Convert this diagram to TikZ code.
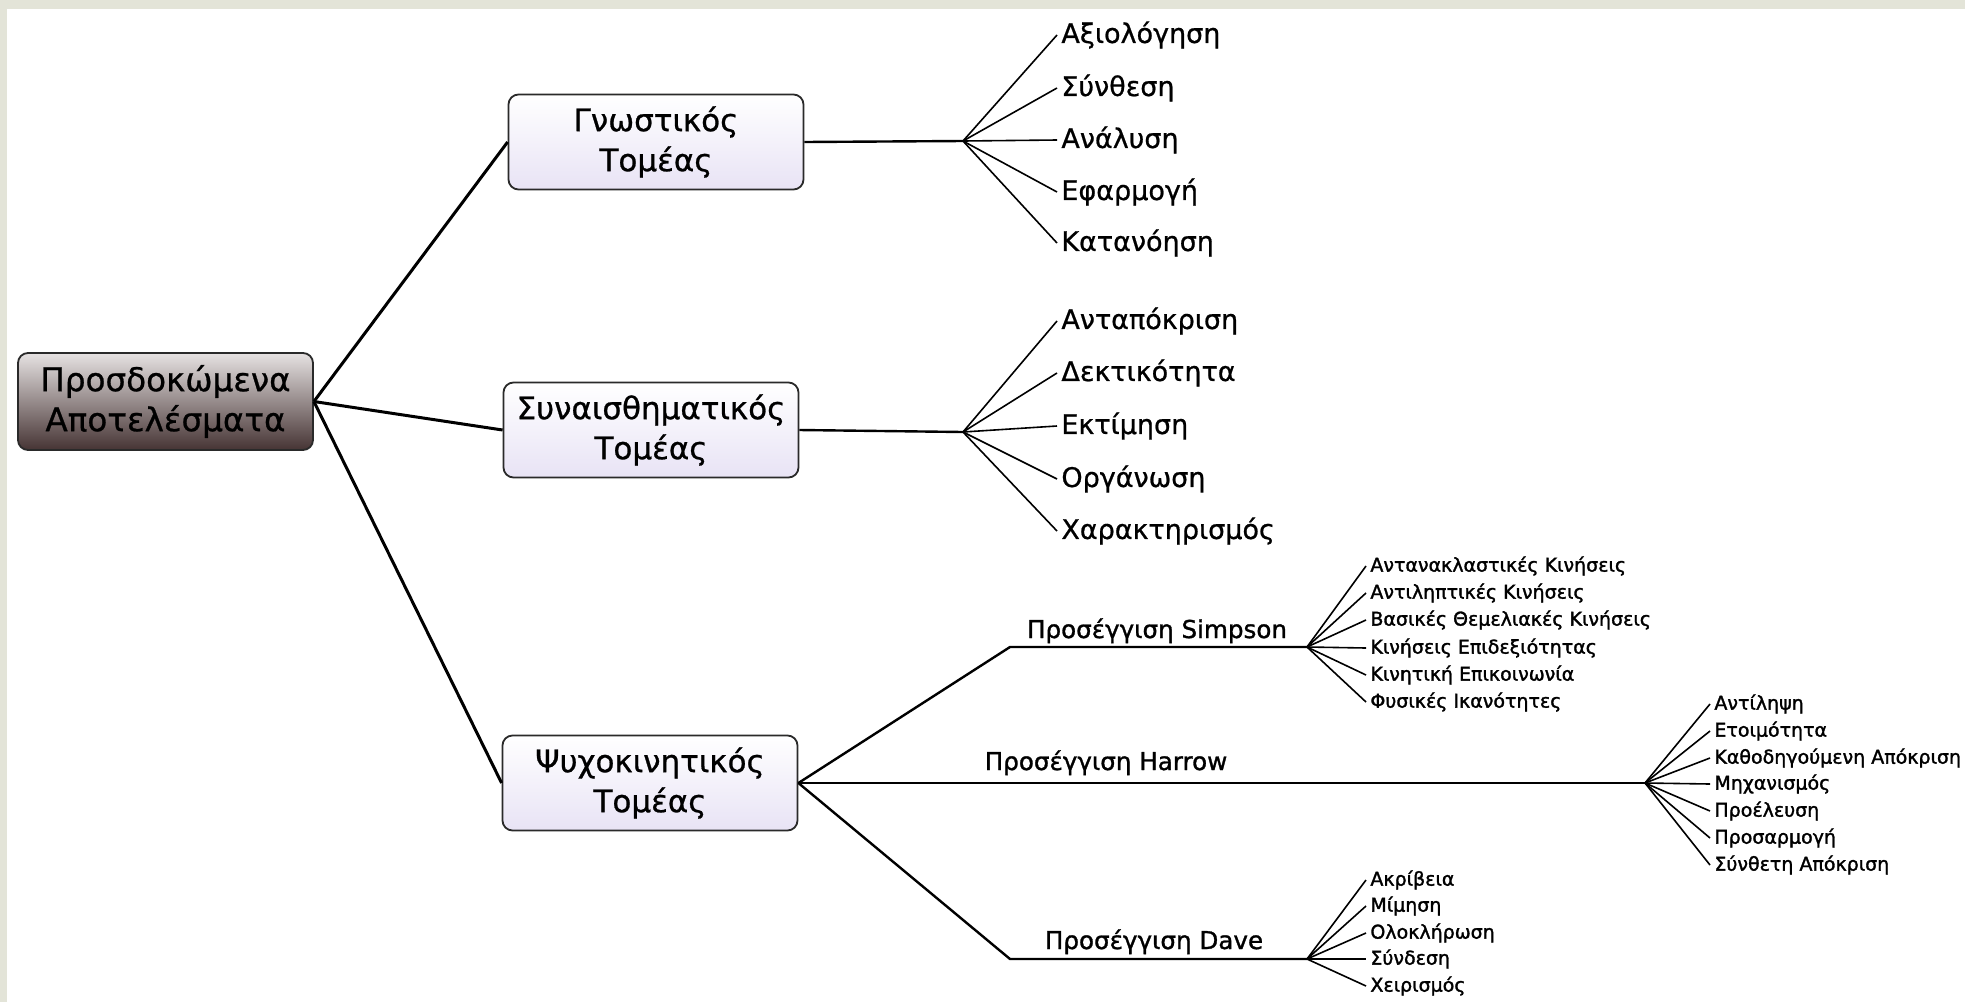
\documentclass[tikz,border=0pt]{standalone}
\usepackage{fontspec}
\setmainfont{DejaVu Sans}
\newfontfamily\semibf[FakeBold=0.8]{DejaVu Sans}
\newfontfamily\midbf[FakeBold=1.2]{DejaVu Sans}
\newfontfamily\heavybf[FakeBold=1.6]{DejaVu Sans}
\definecolor{bgborder}{HTML}{E3E4D8}
\definecolor{lav}{HTML}{E8E3F5}
\definecolor{rtop}{HTML}{E6E2E2}
\definecolor{rbot}{HTML}{463434}
\definecolor{boxline}{HTML}{2A2A2A}
\begin{document}
\begin{tikzpicture}[x=0.5pt,y=-0.5pt,
  box/.style={draw=boxline, line width=0.9pt, rounded corners=5pt,
    minimum width=147.5pt, minimum height=47.5pt, align=center,
    font=\semibf\fontsize{15.5}{20}\selectfont, top color=white, bottom color=lav, inner sep=0pt},
  rootbox/.style={box, top color=rtop, bottom color=rbot, minimum height=48.5pt,
    font=\semibf\fontsize{16.3}{20}\selectfont},
  fanlab/.style={anchor=west, inner sep=2pt, font=\semibf\fontsize{13.5}{15}\selectfont},
  midlab/.style={anchor=base, inner sep=0pt, font=\midbf\fontsize{12.3}{14}\selectfont},
  smlab/.style={anchor=west, inner sep=2pt, font=\heavybf\fontsize{9.5}{11}\selectfont},
  thick1/.style={line width=1.5pt},
  thick2/.style={line width=1.2pt},
  thin1/.style={line width=0.8pt}]
\useasboundingbox (0,0) rectangle (1965,1002);
\fill[bgborder] (0,0) rectangle (1965,1002);
\fill[white] (7,9) rectangle (1965,1002);

% main boxes
\node[rootbox] (root) at (165.5,401.5) {Προσδοκώμενα\\Αποτελέσματα};
\node[box] (cog) at (656,142) {Γνωστικός\\Τομέας};
\node[box] (aff) at (651,430) {Συναισθηματικός\\Τομέας};
\node[box] (psy) at (650,783) {Ψυχοκινητικός\\Τομέας};

\draw[thick1] (root.east) -- (cog.west);
\draw[thick1] (root.east) -- (aff.west);
\draw[thick1] (root.east) -- (psy.west);

% cognitive fan
\coordinate (hcog) at (963,141);
\draw[thick2] (cog.east) -- (hcog);
\node[fanlab] (c1) at (1057,35) {Αξιολόγηση};
\node[fanlab] (c2) at (1057,88) {Σύνθεση};
\node[fanlab] (c3) at (1057,140) {Ανάλυση};
\node[fanlab] (c4) at (1057,192) {Εφαρμογή};
\node[fanlab] (c5) at (1057,243) {Κατανόηση};
\foreach \n in {c1,c2,c3,c4,c5} \draw[thin1] (hcog) -- (\n.west);

% affective fan
\coordinate (haff) at (963,432);
\draw[thick2] (aff.east) -- (haff);
\node[fanlab] (a1) at (1057,321) {Ανταπόκριση};
\node[fanlab] (a2) at (1057,373) {Δεκτικότητα};
\node[fanlab] (a3) at (1057,426) {Εκτίμηση};
\node[fanlab] (a4) at (1057,479) {Οργάνωση};
\node[fanlab] (a5) at (1057,531) {Χαρακτηρισμός};
\foreach \n in {a1,a2,a3,a4,a5} \draw[thin1] (haff) -- (\n.west);

% psychomotor branches
\coordinate (sc) at (1010,647);
\coordinate (hs) at (1307,647);
\coordinate (hh) at (1645,783);
\coordinate (dc) at (1010,959);
\coordinate (hd) at (1307,959);
\draw[thick2] (psy.east) -- (sc) -- (hs);
\draw[thick2] (psy.east) -- (hh);
\draw[thick2] (psy.east) -- (dc) -- (hd);
\node[midlab] (ls) at (1157,638) {Προσέγγιση Simpson};
\node[midlab] (lh) at (1106,770) {Προσέγγιση Harrow};
\node[midlab] (ld) at (1154,949) {Προσέγγιση Dave};

% Simpson leaves
\node[smlab] (s1) at (1366,566) {Αντανακλαστικές Κινήσεις};
\node[smlab] (s2) at (1366,593) {Αντιληπτικές Κινήσεις};
\node[smlab] (s3) at (1366,620) {Βασικές Θεμελιακές Κινήσεις};
\node[smlab] (s4) at (1366,648) {Κινήσεις Επιδεξιότητας};
\node[smlab] (s5) at (1366,675) {Κινητική Επικοινωνία};
\node[smlab] (s6) at (1366,702) {Φυσικές Ικανότητες};
\foreach \n in {s1,s2,s3,s4,s5,s6} \draw[thin1] (hs) -- (\n.west);

% Harrow leaves
\node[smlab] (h1) at (1710,704) {Αντίληψη};
\node[smlab] (h2) at (1710,731) {Ετοιμότητα};
\node[smlab] (h3) at (1710,758) {Καθοδηγούμενη Απόκριση};
\node[smlab] (h4) at (1710,784) {Μηχανισμός};
\node[smlab] (h5) at (1710,811) {Προέλευση};
\node[smlab] (h6) at (1710,838) {Προσαρμογή};
\node[smlab] (h7) at (1710,865) {Σύνθετη Απόκριση};
\foreach \n in {h1,h2,h3,h4,h5,h6,h7} \draw[thin1] (hh) -- (\n.west);

% Dave leaves
\node[smlab] (d1) at (1366,880) {Ακρίβεια};
\node[smlab] (d2) at (1366,906) {Μίμηση};
\node[smlab] (d3) at (1366,933) {Ολοκλήρωση};
\node[smlab] (d4) at (1366,959) {Σύνδεση};
\node[smlab] (d5) at (1366,986) {Χειρισμός};
\foreach \n in {d1,d2,d3,d4,d5} \draw[thin1] (hd) -- (\n.west);
\end{tikzpicture}
\end{document}
